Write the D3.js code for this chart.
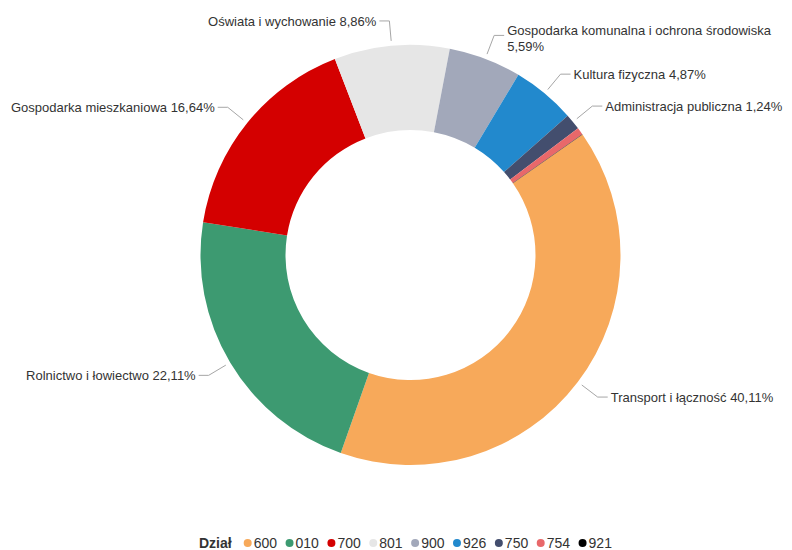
<!DOCTYPE html>
<html>
<head>
<meta charset="utf-8">
<script src="https://cdn.jsdelivr.net/npm/d3@7"></script>
<style>
  body { margin: 0; background: #fff; }
  svg { font-family: "Liberation Sans", Arial, sans-serif; }
</style>
</head>
<body>
<svg id="chart"></svg>
<script>
const codes = ["600", "010", "700", "801", "900", "926", "750", "754", "921"];
const names = [
  "Transport i łączność",
  "Rolnictwo i łowiectwo",
  "Gospodarka mieszkaniowa",
  "Oświata i wychowanie",
  "Gospodarka komunalna i ochrona środowiska",
  "Kultura fizyczna",
  "Administracja publiczna",
  "Bezpieczeństwo publiczne i ochrona przeciwpożarowa",
  "Kultura i ochrona dziedzictwa narodowego"
];
const shares = [40.11, 22.11, 16.64, 8.86, 5.59, 4.87, 1.24, 0.55, 0.03];
const colors = ["#f7a95a", "#3d9a71", "#d40000", "#e6e6e6", "#a2a8ba", "#2289cd", "#434e6e", "#e8686a", "#000000"];
const legendTitle = "Dział";

const width = 792, height = 550;
const cx = 410.5, cy = 255, outerR = 210, innerR = 125;
const startDeg = 55; // first slice starts here (clockwise from 12 o'clock)

const svg = d3.select("#chart").attr("width", width).attr("height", height);

const data = codes.map((c, i) => ({code: c, name: names[i], value: shares[i], color: colors[i]}));

const pie = d3.pie()
  .sort(null)
  .value(d => d.value)
  .startAngle(startDeg * Math.PI / 180)
  .endAngle(startDeg * Math.PI / 180 + 2 * Math.PI);

const arc = d3.arc().innerRadius(innerR).outerRadius(outerR);
const arcs = pie(data);

const g = svg.append("g").attr("transform", `translate(${cx},${cy})`);

g.selectAll("path.slice")
  .data(arcs)
  .join("path")
  .attr("class", "slice")
  .attr("d", arc)
  .attr("fill", d => d.data.color);

// data labels with connectors
const fmt = v => d3.format(".2f")(v).replace(".", ",") + "%";
const polar = (a, r) => [Math.sin(a) * r, -Math.cos(a) * r];

const labelled = arcs.filter(d => d.data.value >= 1);
const labels = g.append("g");

labelled.forEach(d => {
  const mid = (d.startAngle + d.endAngle) / 2;
  const right = Math.sin(mid) >= 0;
  const touch = polar(mid, outerR + 5);
  const brk = polar(mid, outerR + 25);
  const hx = brk[0] + (right ? 10 : -10);

  labels.append("path")
    .attr("d", d3.line()([touch, brk, [hx, brk[1]]]))
    .attr("fill", "none")
    .attr("stroke", "#a6a6a6")
    .attr("stroke-width", 1);

  const tx = hx + (right ? 3 : -3);
  const text = labels.append("text")
    .attr("x", tx)
    .attr("font-size", 13)
    .attr("fill", "#333333")
    .attr("text-anchor", right ? "start" : "end");

  // wrap if the label runs past the chart edge
  const full = d.data.name + " " + fmt(d.data.value);
  const maxW = right ? (width - 4 - (cx + tx)) : (cx + tx - 4);
  const words = full.split(" ");
  const lines = [];
  let cur = [];
  const probe = text.append("tspan");
  words.forEach(w => {
    const attempt = cur.concat([w]).join(" ");
    probe.text(attempt);
    if (probe.node().getComputedTextLength() > maxW && cur.length) {
      lines.push(cur.join(" "));
      cur = [w];
    } else {
      cur.push(w);
    }
  });
  lines.push(cur.join(" "));
  probe.remove();

  const lh = 16;
  const y0 = brk[1] - (lines.length - 1) * lh / 2 + (lines.length > 1 ? 3 : 0);
  lines.forEach((ln, i) => {
    text.append("tspan")
      .attr("x", tx)
      .attr("y", y0 + i * lh)
      .attr("dy", "0.35em")
      .text(ln);
  });
});

// legend
const legend = svg.append("g").attr("transform", "translate(199,543)");
const title = legend.append("text")
  .attr("font-size", 14)
  .attr("font-weight", "bold")
  .attr("fill", "#333333")
  .attr("dy", "0.35em")
  .text(legendTitle);

let lx = title.node().getComputedTextLength() + 12;
const items = legend.append("g");
data.forEach(d => {
  items.append("circle")
    .attr("cx", lx + 4)
    .attr("cy", 0)
    .attr("r", 4)
    .attr("fill", d.color);
  const t = items.append("text")
    .attr("x", lx + 10)
    .attr("dy", "0.35em")
    .attr("font-size", 14)
    .attr("fill", "#333333")
    .text(d.code);
  lx += 10 + t.node().getComputedTextLength() + 8.5;
});
</script>
</body>
</html>
